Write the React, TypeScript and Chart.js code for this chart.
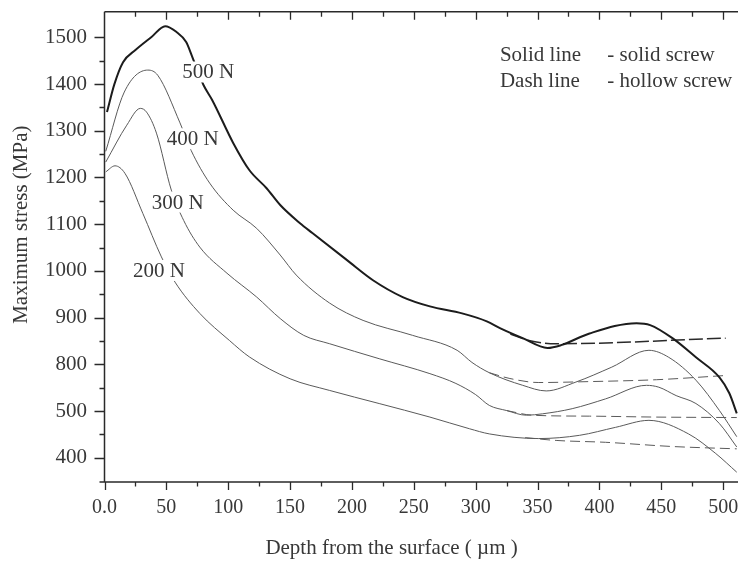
import React, { useEffect, useRef } from 'react';
import { Chart, registerables } from 'chart.js';

Chart.register(...registerables);

// ---------- data ----------
// The y axis is printed with uniform tick spacing but labels 400, 500, 800, 900 ...
// Values below are expressed on that uniform axis (tick k sits at 600 + 100k).
const yTickValues = [600, 700, 800, 900, 1000, 1100, 1200, 1300, 1400, 1500];
const yTickLabels = ['400', '500', '800', '900', '1000', '1100', '1200', '1300', '1400', '1500'];
const yMinorValues = [650, 750, 850, 950, 1050, 1150, 1250, 1350, 1450];

const xTickValues = [0, 50, 100, 150, 200, 250, 300, 350, 400, 450, 500];
const xTickLabels = ['0.0', '50', '100', '150', '200', '250', '300', '350', '400', '450', '500'];
const xMinorValues = [25, 75, 125, 175, 225, 275, 325, 375, 425, 475];

const solid500X = [2, 8, 15, 25, 38, 49, 58, 66, 71, 80, 87, 104, 117, 131, 142, 158, 168, 196, 217, 241, 263, 289, 309, 320, 338, 358, 369, 392, 430, 441, 459, 478, 497, 505, 511];
const solid500Y = [1340, 1400, 1447, 1473, 1501, 1524, 1512, 1490, 1458, 1398, 1366, 1274, 1216, 1177, 1141, 1102, 1081, 1023, 980, 944, 924, 909, 892, 877, 856, 835, 841, 866, 888, 884, 856, 815, 772, 738, 695];
const hollow500X = [328, 343, 365, 502];
const hollow500Y = [865, 851, 844, 856];

const solid400X = [1, 16, 35, 43, 61, 70, 85, 104, 123, 142, 155, 182, 209, 249, 285, 297, 311, 338, 357, 381, 410, 440, 456, 478, 497, 511];
const solid400Y = [1256, 1383, 1430, 1419, 1317, 1258, 1188, 1130, 1091, 1034, 991, 931, 894, 862, 830, 804, 782, 755, 743, 762, 794, 830, 815, 766, 701, 645];
const hollow400X = [311, 327, 351, 392, 446, 502];
const hollow400Y = [782, 770, 761, 763, 767, 776];

const solid300X = [1, 18, 29, 34, 42, 54, 64, 77, 99, 123, 142, 161, 182, 222, 263, 284, 300, 311, 325, 341, 354, 378, 405, 438, 448, 462, 478, 497, 511];
const solid300Y = [1233, 1312, 1348, 1340, 1295, 1173, 1108, 1051, 995, 944, 898, 862, 844, 812, 780, 759, 735, 712, 701, 691, 694, 705, 726, 755, 751, 733, 716, 673, 623];
const hollow300X = [325, 346, 392, 446, 511];
const hollow300Y = [701, 691, 689, 687, 686];

const solid200X = [1, 8.5, 16.5, 31, 46, 57, 77, 101, 117, 150, 182, 222, 263, 295, 311, 351, 384, 413, 440, 472, 494, 511];
const solid200Y = [1212, 1225, 1209, 1123, 1030, 976, 909, 851, 816, 769, 744, 716, 687, 662, 651, 641, 648, 665, 680, 651, 609, 569];
const hollow200X = [340, 365, 405, 459, 511];
const hollow200Y = [643, 637, 633, 624, 619];

const seriesNames = ['500 N', '400 N', '300 N', '200 N'];
// label anchors (data coordinates: centre x, baseline y)
const labelX = [83.9, 71.3, 59.2, 44.1];
const labelY = [1412, 1269, 1133.5, 987];

const legendKeys = ['Solid line', 'Dash line'];
const legendValues = ['- solid screw', '- hollow screw'];

const xTitle = 'Depth from the surface ( µm )';
const yTitle = 'Maximum stress (MPa)';

// ---------- styling ----------
const FONT = "'Liberation Serif', 'Times New Roman', serif";
const TEXT = '#383838';
const AXIS = '#2a2a2a';
const THICK = '#1c1c1c';
const THIN = '#5a5a5a';

const toPts = (xs: number[], ys: number[]) => xs.map((x, i) => ({ x, y: ys[i] }));

const decorPlugin = {
  id: 'decor',
  afterDatasetsDraw(chart: any) {
    const { ctx, chartArea: a, scales } = chart;
    const xs = scales.x;
    const ys = scales.y;
    ctx.save();

    // curve labels with white background (creates gaps in curves)
    ctx.font = `21px ${FONT}`;
    ctx.textAlign = 'center';
    ctx.textBaseline = 'alphabetic';
    seriesNames.forEach((name, i) => {
      const cx = xs.getPixelForValue(labelX[i]);
      const by = ys.getPixelForValue(labelY[i]);
      const w = ctx.measureText(name).width;
      ctx.fillStyle = '#ffffff';
      ctx.fillRect(cx - w / 2 - 3, by - 17, w + 6, 21);
      ctx.fillStyle = TEXT;
      ctx.fillText(name, cx, by);
    });

    // legend text
    ctx.textAlign = 'left';
    ctx.fillStyle = TEXT;
    const lx1 = xs.getPixelForValue(319.6);
    const lx2 = xs.getPixelForValue(406.4);
    const ly = [ys.getPixelForValue(1449), ys.getPixelForValue(1393.5)];
    legendKeys.forEach((k, i) => {
      ctx.fillText(k, lx1, ly[i]);
      ctx.fillText(legendValues[i], lx2, ly[i]);
    });

    // axis titles
    ctx.textAlign = 'center';
    ctx.textBaseline = 'middle';
    ctx.fillText(xTitle, xs.getPixelForValue(232), 548);
    ctx.save();
    ctx.translate(21, ys.getPixelForValue(1099));
    ctx.rotate(-Math.PI / 2);
    ctx.fillText(yTitle, 0, 0);
    ctx.restore();

    // axes frame
    ctx.strokeStyle = AXIS;
    ctx.lineWidth = 1.5;
    ctx.beginPath();
    ctx.moveTo(a.left - 5, a.bottom);
    ctx.lineTo(a.right, a.bottom);
    ctx.moveTo(a.left, a.bottom);
    ctx.lineTo(a.left, a.top);
    ctx.moveTo(a.left, a.top);
    ctx.lineTo(a.right, a.top);
    ctx.stroke();

    ctx.lineWidth = 1.3;
    ctx.beginPath();
    xTickValues.forEach((v) => {
      const p = Math.round(xs.getPixelForValue(v)) + 0.5;
      ctx.moveTo(p, a.bottom);
      ctx.lineTo(p, a.bottom + 8);
      if (v > 0) {
        ctx.moveTo(p, a.top);
        ctx.lineTo(p, a.top + 8);
      }
    });
    xMinorValues.forEach((v) => {
      const p = Math.round(xs.getPixelForValue(v)) + 0.5;
      ctx.moveTo(p, a.bottom);
      ctx.lineTo(p, a.bottom + 4.5);
      ctx.moveTo(p, a.top);
      ctx.lineTo(p, a.top + 5);
    });
    yTickValues.forEach((v) => {
      const p = Math.round(ys.getPixelForValue(v)) + 0.5;
      ctx.moveTo(a.left, p);
      ctx.lineTo(a.left - 10, p);
    });
    yMinorValues.forEach((v) => {
      const p = Math.round(ys.getPixelForValue(v)) + 0.5;
      ctx.moveTo(a.left, p);
      ctx.lineTo(a.left - 5, p);
    });
    ctx.stroke();
    ctx.restore();
  },
};

export default function App() {
  const ref = useRef<HTMLCanvasElement | null>(null);

  useEffect(() => {
    if (!ref.current) return;
    const solid = (xs: number[], ys: number[], thick: boolean) => ({
      data: toPts(xs, ys),
      borderColor: thick ? THICK : THIN,
      borderWidth: thick ? 2 : 1,
      pointRadius: 0,
      cubicInterpolationMode: 'monotone' as const,
      fill: false,
    });
    const dashed = (xs: number[], ys: number[], thick: boolean) => ({
      data: toPts(xs, ys),
      borderColor: thick ? '#2a2a2a' : THIN,
      borderWidth: thick ? 1.5 : 1,
      borderDash: thick ? [14, 4] : [10, 5],
      pointRadius: 0,
      cubicInterpolationMode: 'monotone' as const,
      fill: false,
    });

    const chart = new Chart(ref.current, {
      type: 'line',
      data: {
        datasets: [
          solid(solid500X, solid500Y, true),
          dashed(hollow500X, hollow500Y, true),
          solid(solid400X, solid400Y, false),
          dashed(hollow400X, hollow400Y, false),
          solid(solid300X, solid300Y, false),
          dashed(hollow300X, hollow300Y, false),
          solid(solid200X, solid200Y, false),
          dashed(hollow200X, hollow200Y, false),
        ] as any,
      },
      options: {
        animation: false,
        responsive: false,
        maintainAspectRatio: false,
        layout: { padding: { top: 11.7, left: 0, right: 0, bottom: 0 } },
        plugins: { legend: { display: false }, tooltip: { enabled: false } },
        scales: {
          x: {
            type: 'linear',
            position: 'bottom',
            min: 0,
            max: 512,
            afterBuildTicks: (s: any) => {
              s.ticks = xTickValues.map((v) => ({ value: v }));
            },
            afterFit: (s: any) => {
              s.height = 561 - 482;
              s.paddingLeft = 0;
              s.paddingRight = 0;
            },
            grid: { display: false, drawTicks: false },
            border: { display: false },
            ticks: {
              autoSkip: false,
              maxRotation: 0,
              padding: 14,
              color: TEXT,
              font: { family: FONT, size: 20 },
              callback: (_v: any, i: number) => xTickLabels[i],
            },
            title: { display: false },
          },
          y: {
            type: 'linear',
            min: 548,
            max: 1555,
            afterBuildTicks: (s: any) => {
              s.ticks = yTickValues.map((v) => ({ value: v }));
            },
            afterFit: (s: any) => {
              s.width = 104.5;
              s.paddingTop = 0;
              s.paddingBottom = 0;
            },
            grid: { display: false, drawTicks: false },
            border: { display: false },
            ticks: {
              autoSkip: false,
              padding: 17.5,
              color: TEXT,
              font: { family: FONT, size: 21 },
              callback: (_v: any, i: number) => yTickLabels[i],
            },
            title: { display: false },
          },
        },
      },
      plugins: [decorPlugin],
    });
    return () => chart.destroy();
  }, []);

  return (
    <div style={{ position: 'absolute', left: 0, top: 0, width: 738, height: 561, background: '#fff' }}>
      <canvas ref={ref} width={738} height={561} style={{ display: 'block' }} />
    </div>
  );
}
